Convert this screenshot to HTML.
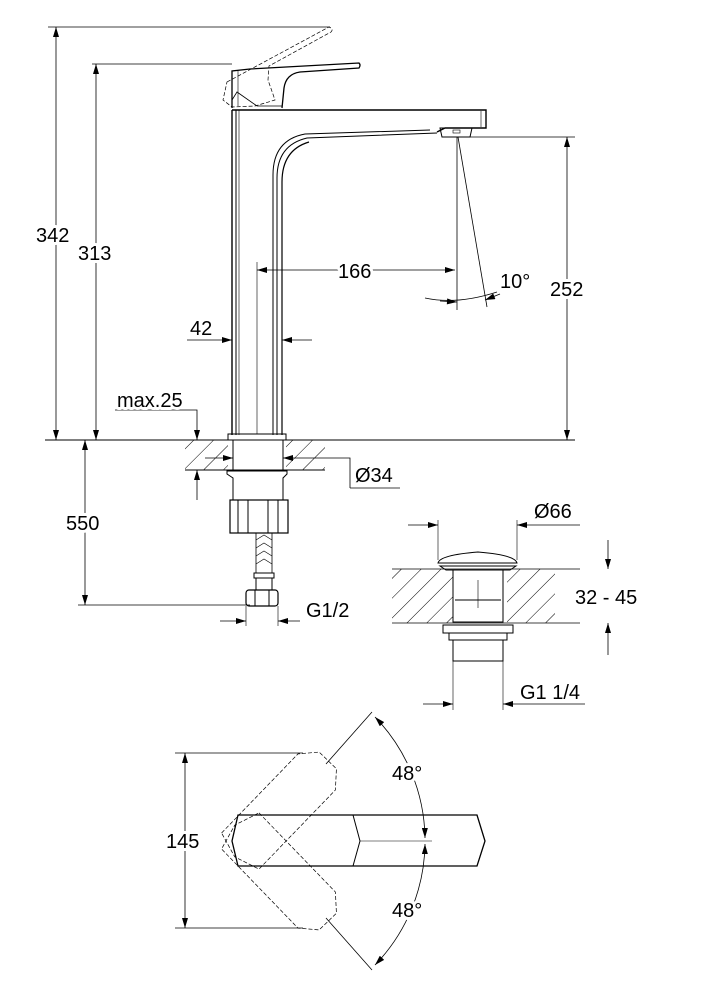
<!DOCTYPE html>
<html><head><meta charset="utf-8"><style>
html,body{margin:0;padding:0;background:#fff;}
svg{display:block;}
text{font-family:"Liberation Sans",Arial,sans-serif;font-size:20px;fill:#000;stroke:#fff;stroke-width:6px;paint-order:stroke;stroke-linejoin:round;}
</style></head><body>
<svg width="708" height="1000" viewBox="0 0 708 1000" xmlns="http://www.w3.org/2000/svg">
<defs>
<marker id="a" viewBox="0 0 10 6" refX="10" refY="3" markerWidth="11" markerHeight="6" orient="auto-start-reverse" markerUnits="userSpaceOnUse">
<path d="M0,0 L10,3 L0,6 Z" fill="#000"/></marker>
<pattern id="h" width="14" height="14" patternUnits="userSpaceOnUse" patternTransform="rotate(45)">
<line x1="0" y1="0" x2="0" y2="14" stroke="#000" stroke-width="1"/></pattern>
</defs>
<g fill="none" stroke="#000" stroke-width="1">
<line x1="48" y1="27" x2="330" y2="27" stroke-width="0.8"/>
<line x1="92" y1="64" x2="232" y2="64" stroke-width="0.8"/>
<line x1="45" y1="440" x2="575" y2="440" stroke-width="1"/>
<line x1="78" y1="605" x2="250" y2="605" stroke-width="0.8"/>
<line x1="462" y1="137" x2="575" y2="137" stroke-width="0.8"/>
<line x1="56" y1="27" x2="56" y2="440" marker-start="url(#a)" marker-end="url(#a)" stroke-width="0.8"/>
<line x1="96" y1="64" x2="96" y2="440" marker-start="url(#a)" marker-end="url(#a)" stroke-width="0.8"/>
<line x1="85" y1="440" x2="85" y2="605" marker-start="url(#a)" marker-end="url(#a)" stroke-width="0.8"/>
<line x1="567" y1="137" x2="567" y2="440" marker-start="url(#a)" marker-end="url(#a)" stroke-width="0.8"/>
<polyline points="115,410 197,410 197,440" marker-end="url(#a)" stroke-width="0.8"/>
<line x1="197" y1="500" x2="197" y2="470" marker-end="url(#a)" stroke-width="0.8"/>
<path d="M185,440 H228 V470 H185 Z M286,440 H325 V470 H286 Z" fill="url(#h)" stroke="none"/>
<line x1="185" y1="470" x2="325" y2="470"/>
<line x1="232" y1="110" x2="232" y2="435" stroke-width="1.4"/>
<line x1="236" y1="110" x2="236" y2="435"/>
<line x1="239" y1="110" x2="239" y2="435" stroke-width="0.6"/>
<path d="M273,435 V175 Q273,140 305,134 L430,130" />
<path d="M277,435 V178 Q277,145 307,138 L437,133"/>
<path d="M282,435 V182 Q282,150 309,142" stroke-width="1.2"/>
<line x1="257" y1="262" x2="257" y2="434" stroke-width="0.6"/>
<path d="M232,110 H486 V128 H445 L437,132" stroke-width="1.4"/>
<line x1="481" y1="111" x2="481" y2="127" stroke-width="0.6"/>
<path d="M440,128 H472 L470,137 H442 Z"/>
<rect x="453" y="130" width="7" height="3" stroke-width="0.6"/>
<path d="M232,108 V71 L250,69 L359,63 Q361,65 359,68 L300,72 Q286,74 284,88 L282,108" stroke-width="1.3"/>
<path d="M232,100 L237,92 L257,106 H282" stroke-width="0.8"/>
<line x1="238" y1="71" x2="238" y2="106" stroke-width="0.6"/>
<path d="M227,82 L329,27 Q334,29 331,32 L269,66 L268,80 L275,100 L255,106 L232,107 L223,100 Z" stroke-dasharray="4,2" stroke-width="0.7"/>
<rect x="228" y="434" width="58" height="6" stroke-width="1"/>
<line x1="257" y1="270" x2="455" y2="270" marker-start="url(#a)" marker-end="url(#a)" stroke-width="0.8"/>
<line x1="187" y1="340" x2="232" y2="340" marker-end="url(#a)" stroke-width="0.8"/>
<line x1="312" y1="340" x2="282" y2="340" marker-end="url(#a)" stroke-width="0.8"/>
<line x1="457" y1="137" x2="457" y2="310" stroke-width="0.8"/>
<line x1="458" y1="137" x2="487" y2="307" stroke-width="0.8"/>
<path d="M425,298 Q457,305 497,292" stroke-width="0.8"/>
<line x1="440" y1="301" x2="457" y2="302" marker-end="url(#a)" stroke-width="0.8"/>
<line x1="500" y1="294" x2="485" y2="300" marker-end="url(#a)" stroke-width="0.8"/>
<line x1="233" y1="440" x2="233" y2="470"/><line x1="283" y1="440" x2="283" y2="470"/>
<line x1="205" y1="458" x2="233" y2="458" marker-end="url(#a)" stroke-width="0.8"/>
<polyline points="350,488 350,458 283,458" marker-end="url(#a)" stroke-width="0.8"/>
<line x1="350" y1="488" x2="400" y2="488" stroke-width="0.8"/>
<path d="M227,471 H287 V474 L283,478 V500 H233 V478 L227,474 Z"/>
<rect x="230" y="500" width="58" height="33" stroke-width="1.2"/>
<line x1="238" y1="500" x2="238" y2="533"/><line x1="248" y1="500" x2="248" y2="533"/>
<line x1="268" y1="500" x2="268" y2="533"/><line x1="278" y1="500" x2="278" y2="533"/>
<rect x="256" y="533" width="16" height="40" stroke-width="0.8"/>
<path d="M256,540 L264,535 L272,540 M256,548 L264,543 L272,548 M256,556 L264,551 L272,556 M256,564 L264,559 L272,564" stroke-width="0.6"/>
<rect x="254" y="573" width="20" height="5"/>
<rect x="256" y="578" width="16" height="12"/>
<rect x="246" y="590" width="32" height="16" rx="3" stroke-width="1.2"/>
<line x1="255" y1="590" x2="255" y2="606"/><line x1="269" y1="590" x2="269" y2="606"/>
<line x1="246" y1="606" x2="246" y2="626" stroke-width="0.6"/><line x1="278" y1="606" x2="278" y2="626" stroke-width="0.6"/>
<line x1="220" y1="621" x2="246" y2="621" marker-end="url(#a)" stroke-width="0.8"/>
<line x1="300" y1="621" x2="278" y2="621" marker-end="url(#a)" stroke-width="0.8"/>
<path d="M392,569 H453 V623 H392 Z M507,569 H555 V623 H507 Z" fill="url(#h)" stroke="none"/>
<line x1="392" y1="569" x2="580" y2="569" stroke-width="0.8"/>
<line x1="392" y1="623" x2="580" y2="623" stroke-width="0.8"/>
<path d="M438,563 Q440,555 478,552 Q515,555 517,563 Z"/>
<path d="M440,566 H516 L510,570 H446 Z"/>
<rect x="453" y="570" width="50" height="52"/>
<line x1="455" y1="600" x2="501" y2="600"/>
<line x1="478" y1="580" x2="478" y2="608" stroke-width="0.6"/>
<rect x="443" y="625" width="70" height="8"/>
<rect x="449" y="633" width="58" height="7"/>
<rect x="453" y="640" width="50" height="21"/>
<line x1="438" y1="520" x2="438" y2="560" stroke-width="0.6"/><line x1="517" y1="520" x2="517" y2="560" stroke-width="0.6"/>
<line x1="408" y1="525" x2="438" y2="525" marker-end="url(#a)" stroke-width="0.8"/>
<line x1="580" y1="525" x2="517" y2="525" marker-end="url(#a)" stroke-width="0.8"/>
<line x1="608" y1="540" x2="608" y2="569" marker-end="url(#a)" stroke-width="0.8"/>
<line x1="608" y1="655" x2="608" y2="623" marker-end="url(#a)" stroke-width="0.8"/>
<line x1="453" y1="661" x2="453" y2="710" stroke-width="0.6"/><line x1="503" y1="661" x2="503" y2="710" stroke-width="0.6"/>
<line x1="423" y1="704" x2="453" y2="704" marker-end="url(#a)" stroke-width="0.8"/>
<line x1="585" y1="704" x2="503" y2="704" marker-end="url(#a)" stroke-width="0.8"/>
<line x1="175" y1="753" x2="303" y2="753" stroke-width="0.8"/>
<line x1="175" y1="928" x2="303" y2="928" stroke-width="0.8"/>
<line x1="185" y1="753" x2="185" y2="928" marker-start="url(#a)" marker-end="url(#a)" stroke-width="0.8"/>
<path d="M238,815 H477 L485,841 L477,866 H238 L232,841 Z" stroke-width="1.3"/>
<path d="M353,815 L360,841 L353,866"/>
<line x1="360" y1="841" x2="432" y2="841" stroke-width="0.6"/>
<g stroke-dasharray="4,2" stroke-width="0.7">
<path transform="translate(250,841) rotate(-46)" d="M-14,-26 H96 L112,-12 V12 L96,26 H-14 L-22,0 Z"/>
<path transform="translate(250,841) rotate(46)" d="M-14,-26 H96 L112,-12 V12 L96,26 H-14 L-22,0 Z"/>
</g>
<line x1="326" y1="764" x2="372" y2="712" stroke-width="0.8"/>
<line x1="326" y1="918" x2="372" y2="970" stroke-width="0.8"/>
<path d="M375,717 A178,178 0 0 1 425,838" stroke-width="0.8" marker-start="url(#a)" marker-end="url(#a)"/>
<path d="M425,844 A178,178 0 0 1 375,965" stroke-width="0.8" marker-start="url(#a)" marker-end="url(#a)"/>
</g>
<text x="36" y="242">342</text>
<text x="78" y="260">313</text>
<text x="338" y="278">166</text>
<text x="500" y="288">10°</text>
<text x="550" y="296">252</text>
<text x="190" y="335">42</text>
<text x="117" y="407">max.25</text>
<text x="355" y="482">Ø34</text>
<text x="66" y="530">550</text>
<text x="306" y="617">G1/2</text>
<text x="534" y="518">Ø66</text>
<text x="575" y="604">32 - 45</text>
<text x="520" y="699">G1 1/4</text>
<text x="392" y="780">48°</text>
<text x="392" y="917">48°</text>
<text x="166" y="848">145</text>
</svg>
</body></html>
